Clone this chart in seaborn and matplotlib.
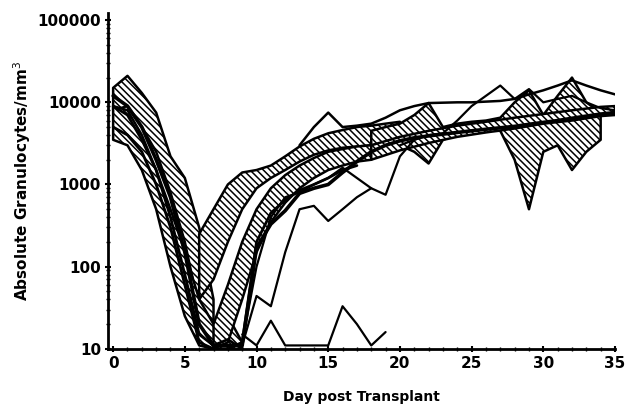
import numpy as np
import pandas as pd
import matplotlib
matplotlib.use("Agg")
import matplotlib.pyplot as plt
import seaborn as sns
from matplotlib.ticker import FixedLocator, NullFormatter, LogLocator

# ---------------- data ----------------
x_ticks = [0, 5, 10, 15, 20, 25, 30, 35]
y_ticks = [10, 100, 1000, 10000, 100000]
y_tick_labels = ["10", "100", "1000", "10000", "100000"]
x_label = "Day post Transplant"
y_label = "Absolute Granulocytes/mm$^{3}$"

# hatched bands: days, lower, upper
band1_days = [0, 1, 2, 3, 4, 5, 6, 7]
band1_low = [8000, 9000, 5000, 2500, 800, 200, 30, 11]
band1_high = [15000, 21000, 13000, 7500, 2200, 1200, 300, 40]

band2_days = [0, 1, 2, 3, 4, 5, 6, 7, 8, 9]
band2_low = [3500, 3000, 1500, 500, 100, 25, 11, 10, 10, 10]
band2_high = [9000, 8000, 4000, 1500, 500, 150, 40, 20, 25, 12]

band3_days = [6, 7, 8, 9, 10, 11, 12, 13, 14, 15, 16, 17, 18, 19, 20]
band3_low = [40, 70, 200, 500, 900, 1200, 1500, 1900, 2300, 2600, 2800, 2900, 3000, 3200, 3400]
band3_high = [250, 500, 1000, 1400, 1500, 1700, 2200, 2900, 3600, 4200, 4600, 5000, 5200, 5500, 5800]

band4_days = [7, 8, 9, 10, 11, 12, 13, 14, 15, 16, 17, 18]
band4_low = [10, 12, 40, 150, 350, 600, 900, 1200, 1500, 1700, 1900, 2000]
band4_high = [20, 60, 200, 500, 900, 1300, 1700, 2100, 2500, 2700, 2900, 3000]

band5_days = [18, 19, 20, 21, 22, 23, 24, 25, 26, 27, 28, 29, 30, 31, 32, 33, 34]
band5_low = [3000, 3200, 3000, 2500, 1800, 3500, 4000, 4200, 4500, 4500, 2000, 500, 2500, 3000, 1500, 2500, 3500]
band5_high = [4500, 5000, 5500, 7000, 9800, 5000, 5500, 5800, 6000, 6500, 10000, 14000, 7000, 12000, 20000, 10000, 7500]

band6_days = [18, 20, 22, 24, 26, 28, 30, 32, 34, 35]
band6_low = [2000, 2600, 3200, 3800, 4300, 4800, 5500, 6000, 6800, 7000]
band6_high = [3000, 3800, 4500, 5200, 5800, 6500, 7200, 8000, 8800, 9000]

# lines
line_t1_days = [13, 14, 15, 16, 17, 18, 19, 20, 21, 22, 23, 24, 25, 26, 27, 28, 29, 30, 31, 32, 33, 34, 35]
line_t1_vals = [3000, 5000, 7500, 5000, 5200, 5500, 6500, 8000, 9000, 9800, 9900, 10000, 10000, 10200, 10400, 11000, 12500, 14000, 16000, 18500, 16000, 14000, 12500]

line_e1_days = list(range(0, 36))
line_e1_vals = [12000, 9000, 5000, 2000, 700, 150, 20, 11, 11, 11, 170, 330, 480, 780, 900, 1000,
                1400, 1900, 2500, 3000, 3400, 3700, 3900, 4100, 4300, 4500, 4700, 4900, 5100, 5400,
                5700, 6000, 6400, 6800, 7200, 7500]

line_e2_days = list(range(0, 18))
line_e2_vals = [5000, 4000, 2500, 1000, 300, 60, 12, 10, 10, 12, 200, 450, 650, 850, 1000, 1200, 1500, 1700]

line_e3_days = list(range(0, 10))
line_e3_vals = [9000, 7000, 3500, 1500, 400, 80, 15, 11, 13, 10]

line_low_days = list(range(9, 20))
line_low_vals = [15, 11, 22, 11, 11, 11, 11, 33, 20, 11, 16]

line_l2_days = list(range(9, 19))
line_l2_vals = [11, 44, 33, 150, 500, 550, 360, 500, 700, 900]

line_l3_days = list(range(9, 23))
line_l3_vals = [12, 100, 400, 700, 800, 1000, 1200, 1600, 1200, 900, 750, 2200, 3500, 4000]

line_t2_days = [20, 21, 22, 23, 24, 25, 26, 27, 28, 29, 30, 31, 32, 33, 34, 35]
line_t2_vals = [3000, 3500, 4000, 4200, 6000, 9000, 12000, 16000, 11000, 14500, 10000, 11000, 12000, 10000, 8500, 8000]

# ---------------- style ----------------
sns.set_style("ticks")
plt.rcParams["font.family"] = ["DejaVu Sans"]
plt.rcParams["hatch.linewidth"] = 1.1
plt.rcParams["text.color"] = "black"
plt.rcParams["axes.labelcolor"] = "black"
plt.rcParams["xtick.color"] = "black"
plt.rcParams["ytick.color"] = "black"
plt.rcParams["axes.edgecolor"] = "black"

fig = plt.figure(figsize=(6.25, 4.08), dpi=100)
ax = fig.add_axes([0.173, 0.145, 0.811, 0.823])

bands = [
    (band1_days, band1_low, band1_high),
    (band2_days, band2_low, band2_high),
    (band3_days, band3_low, band3_high),
    (band4_days, band4_low, band4_high),
    (band5_days, band5_low, band5_high),
    (band6_days, band6_low, band6_high),
]
for d, lo, hi in bands:
    ax.fill_between(d, lo, hi, facecolor="white", edgecolor="black",
                    hatch="\\\\\\\\\\", linewidth=1.8, zorder=2)

lines = [
    (line_t1_days, line_t1_vals, 1.8),
    (line_e1_days, line_e1_vals, 2.6),
    (line_e2_days, line_e2_vals, 2.0),
    (line_e3_days, line_e3_vals, 2.0),
    (line_low_days, line_low_vals, 1.6),
    (line_l2_days, line_l2_vals, 1.6),
    (line_l3_days, line_l3_vals, 1.6),
    (line_t2_days, line_t2_vals, 1.6),
]
for d, v, lw in lines:
    df = pd.DataFrame({"day": d, "val": v})
    sns.lineplot(data=df, x="day", y="val", ax=ax, color="black", lw=lw,
                 estimator=None, zorder=3)

ax.set_yscale("log")
ax.set_xlim(-0.35, 35)
ax.set_ylim(10, 1.22e5)
ax.set_xticks(x_ticks)
ax.set_xticklabels([str(t) for t in x_ticks])
ax.xaxis.set_minor_locator(FixedLocator(list(range(0, 36))))
ax.set_yticks(y_ticks)
ax.set_yticklabels(y_tick_labels)
ax.yaxis.set_minor_locator(LogLocator(base=10, subs=np.arange(2, 10)))
ax.yaxis.set_minor_formatter(NullFormatter())

for s in ["top", "right"]:
    ax.spines[s].set_visible(False)
for s in ["left", "bottom"]:
    ax.spines[s].set_linewidth(2.0)
ax.tick_params(axis="both", which="major", length=4, width=1.5, direction="inout",
               labelsize=11, pad=3, colors="black")
ax.tick_params(axis="both", which="minor", length=2.5, width=1.0, direction="inout",
               colors="black")
for lab in ax.get_xticklabels() + ax.get_yticklabels():
    lab.set_fontweight("bold")

ax.set_xlabel(x_label, fontsize=10, fontweight="bold", labelpad=14)
ax.set_ylabel(y_label, fontsize=11, fontweight="bold", labelpad=3)

fig.savefig("out.png", dpi=100)
